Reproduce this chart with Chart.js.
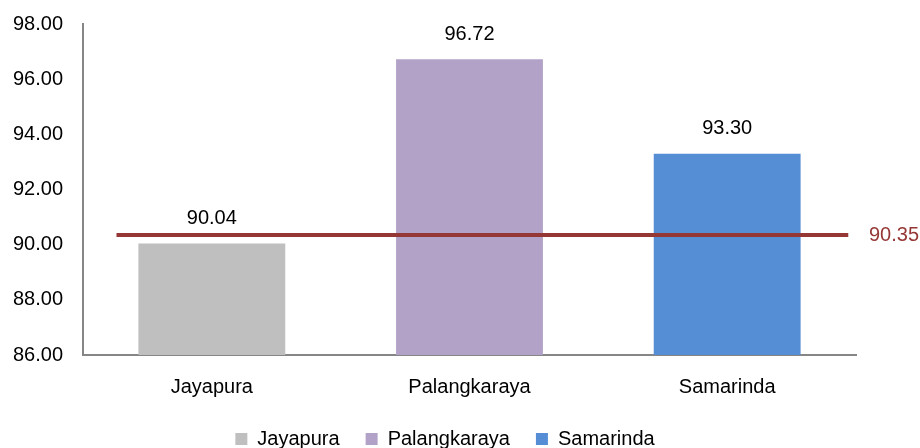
<!DOCTYPE html>
<html>
<head>
<meta charset="utf-8">
<script src="https://cdn.jsdelivr.net/npm/chart.js@4"></script>
<style>
  html, body { margin: 0; padding: 0; background: #fff; }
  #wrap { width: 920px; height: 448px; }
</style>
</head>
<body>
<div id="wrap"><canvas id="chart"></canvas></div>
<script>
// Data
const cities = ['Jayapura', 'Palangkaraya', 'Samarinda'];
const values = [90.04, 96.72, 93.30];
const barColors = ['#BFBFBF', '#B3A2C7', '#558ED5'];
const average = 90.35;
const yTicks = [86, 88, 90, 92, 94, 96, 98];

const FONT = "'Liberation Sans', Arial, sans-serif";

// value labels above bars + label for the average line
const labelPlugin = {
  id: 'labels',
  afterDatasetsDraw(chart) {
    const ctx = chart.ctx;
    const meta = chart.getDatasetMeta(1);
    ctx.save();
    ctx.font = `20px ${FONT}`;
    ctx.textAlign = 'center';
    ctx.textBaseline = 'middle';
    ctx.fillStyle = '#000';
    meta.data.forEach((bar, i) => {
      ctx.fillText(values[i].toFixed(2), bar.x, bar.y - 25);
    });
    const y = chart.scales.y.getPixelForValue(average);
    ctx.fillStyle = '#953735';
    ctx.textAlign = 'left';
    ctx.fillText(average.toFixed(2), 869, y);
    ctx.restore();
  }
};

new Chart(document.getElementById('chart').getContext('2d'), {
  type: 'bar',
  data: {
    labels: cities,
    datasets: [
      {
        type: 'line',
        label: 'Rata-rata',
        data: [{ x: -0.37, y: average }, { x: 2.47, y: average }],
        xAxisID: 'x2',
        borderColor: '#953735',
        borderWidth: 4,
        pointRadius: 0,
        fill: false,
        order: 0
      },
      {
        type: 'bar',
        label: 'Kota',
        data: values,
        backgroundColor: barColors,
        grouped: false,
        categoryPercentage: 1,
        barPercentage: 0.57,
        order: 1
      }
    ]
  },
  options: {
    responsive: true,
    maintainAspectRatio: false,
    animation: false,
    layout: { padding: { top: 4, right: 30, bottom: -11, left: 0 } },
    plugins: {
      tooltip: { enabled: false },
      legend: {
        position: 'bottom',
        labels: {
          color: '#000',
          font: { family: FONT, size: 20 },
          boxWidth: 12,
          boxHeight: 12,
          padding: 26,
          generateLabels: () => cities.map((c, i) => ({
            text: c,
            fillStyle: barColors[i],
            strokeStyle: barColors[i],
            lineWidth: 0,
            hidden: false,
            datasetIndex: 1
          }))
        }
      }
    },
    scales: {
      x: {
        afterFit: (axis) => { axis.height = 48; },
        grid: { display: false },
        border: { display: true, color: '#868686', width: 2 },
        ticks: { color: '#000', font: { family: FONT, size: 20 }, padding: 12 }
      },
      x2: {
        type: 'linear',
        display: false,
        offset: false,
        min: -0.5,
        max: 2.5
      },
      y: {
        min: 86,
        max: 98,
        afterBuildTicks: (axis) => { axis.ticks = yTicks.map(v => ({ value: v })); },
        afterFit: (axis) => { axis.width = 83; },
        grid: { display: false },
        border: { display: true, color: '#868686', width: 2 },
        ticks: {
          color: '#000',
          font: { family: FONT, size: 20 },
          padding: 12,
          callback: (v) => v.toFixed(2)
        }
      },
      // empty right-hand spacer for the average label
      y2: {
        type: 'linear',
        position: 'right',
        display: true,
        afterFit: (axis) => { axis.width = 34; },
        grid: { display: false },
        border: { display: false },
        ticks: { display: false }
      }
    }
  },
  plugins: [labelPlugin]
});
</script>
</body>
</html>
